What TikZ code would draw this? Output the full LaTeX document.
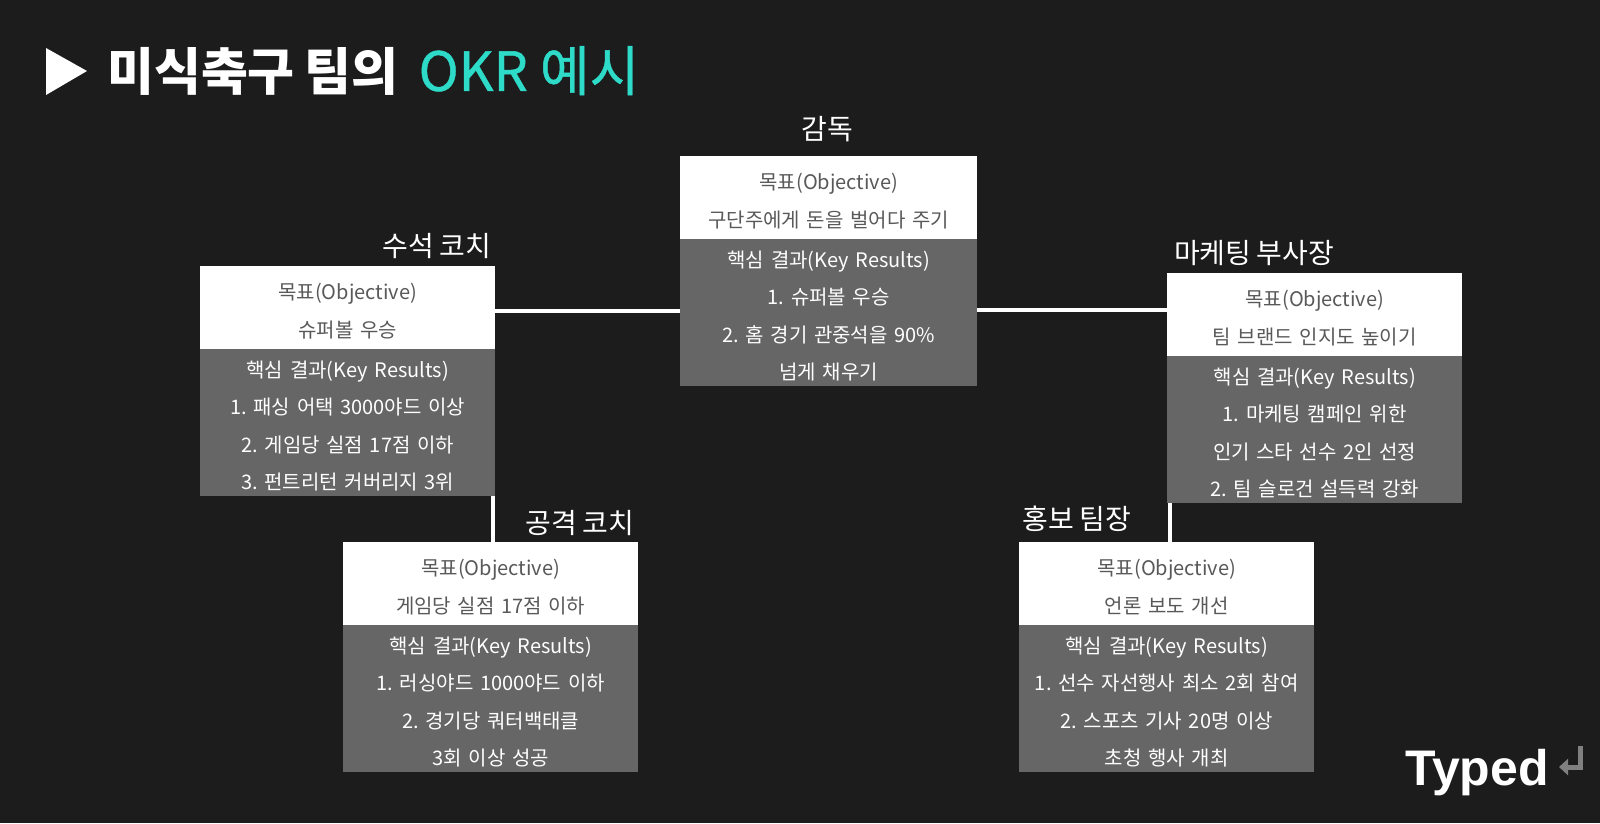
\documentclass[tikz,border=0pt]{standalone}
\usepackage{fontspec}
\setmainfont[WordSpace=0.85]{Noto Sans CJK KR}
\newfontfamily\logofont{Liberation Sans}
\newfontfamily\okrfont[FakeBold=0.8]{Noto Sans CJK KR}
\usepackage{tikz}
\usetikzlibrary{positioning,arrows.meta}
\definecolor{bgdark}{HTML}{1C1C1C}
\definecolor{krgrey}{HTML}{666666}
\definecolor{objtext}{HTML}{595959}
\definecolor{teal}{HTML}{2DDBC8}
\definecolor{returngrey}{HTML}{808080}
\frenchspacing

\begin{document}
\begin{tikzpicture}[x=1pt,y=-1pt]
\tikzstyle{objbox} = [rectangle, fill=white, text=objtext, inner sep=0pt, text width=295pt, align=center, minimum height=83pt, anchor=north west, font=\fontsize{20}{37.5}\selectfont, execute at begin node={\rule{0pt}{23pt}}]
\tikzstyle{krbox} = [rectangle, fill=krgrey, text=white, inner sep=0pt, text width=295pt, align=center, minimum height=147pt, font=\fontsize{20}{37.5}\selectfont, execute at begin node={\rule{0pt}{23pt}}]
\tikzstyle{rolelabel} = [text=white, inner sep=0pt, font=\fontsize{28}{30}\selectfont]
\tikzstyle{link} = [white, line width=4pt]

\fill[bgdark] (0,0) rectangle (1600,823);
\useasboundingbox (0,0) rectangle (1600,823);

% title
\fill[white] (46,48) -- (87,71) -- (46,95) -- cycle;
\node[anchor=west, inner sep=0pt, text=white, font=\fontsize{51}{55}\bfseries\selectfont] (title) at (107,71) {미식축구 팀의\hspace{20pt}\textcolor{teal}{\okrfont\mdseries\fontsize{54}{55}\selectfont OKR 예시}};

% boxes
\node[objbox, text width=297pt] (directorobj) at (680,156) {목표(Objective)\\구단주에게 돈을 벌어다 주기};
\node[krbox, text width=297pt, below=-0.5pt of directorobj] (directorkr) {핵심 결과(Key Results)\\1. 슈퍼볼 우승\\2. 홈 경기 관중석을 90\%\\넘게 채우기};

\node[objbox] (chiefobj) at (200,266) {목표(Objective)\\슈퍼볼 우승};
\node[krbox, below=-0.5pt of chiefobj] (chiefkr) {핵심 결과(Key Results)\\1. 패싱 어택 3000야드 이상\\2. 게임당 실점 17점 이하\\3. 펀트리턴 커버리지 3위};

\node[objbox] (offenseobj) at (343,542) {목표(Objective)\\게임당 실점 17점 이하};
\node[krbox, below=-0.5pt of offenseobj] (offensekr) {핵심 결과(Key Results)\\1. 러싱야드 1000야드 이하\\2. 경기당 쿼터백태클\\3회 이상 성공};

\node[objbox] (marketingobj) at (1167,273) {목표(Objective)\\팀 브랜드 인지도 높이기};
\node[krbox, below=-0.5pt of marketingobj] (marketingkr) {핵심 결과(Key Results)\\1. 마케팅 캠페인 위한\\인기 스타 선수 2인 선정\\2. 팀 슬로건 설득력 강화};

\node[objbox] (probj) at (1019,542) {목표(Objective)\\언론 보도 개선};
\node[krbox, below=-0.5pt of probj] (prkr) {핵심 결과(Key Results)\\1. 선수 자선행사 최소 2회 참여\\2. 스포츠 기사 20명 이상\\초청 행사 개최};

% role labels
\node[rolelabel] (director) at (827,129) {감독};
\node[rolelabel] (chief) at (437,246) {수석 코치};
\node[rolelabel] (offense) at (580,523) {공격 코치};
\node[rolelabel] (marketing) at (1254,253) {마케팅 부사장};
\node[rolelabel] (pr) at (1077,519) {홍보 팀장};

% links
\draw[link] ([yshift=-3.5pt]chiefobj.east) -- ([yshift=-3.5pt]chiefobj.east -| directorkr.west);
\draw[link] ([yshift=2.5pt]directorkr.east) -- ([yshift=2.5pt]directorkr.east -| marketingobj.west);
\draw[link] ([xshift=-2pt]chiefkr.south east) -- ([xshift=-2pt]chiefkr.south east |- offenseobj.north);
\draw[link] ([xshift=3pt]marketingkr.south west) -- ([xshift=3pt]marketingkr.south west |- probj.north);

% logo
\node[anchor=base west, inner sep=0pt, text=white, font=\logofont\fontsize{50}{56}\bfseries\selectfont] (logo) at (1405,785) {Typed};
\coordinate (returntop) at (1580,746);
\coordinate (returnend) at (1559,767);
\draw[returngrey, line width=5pt, -{Triangle[length=9pt,width=16pt]}] (returntop) |- (returnend);
\end{tikzpicture}
\end{document}
